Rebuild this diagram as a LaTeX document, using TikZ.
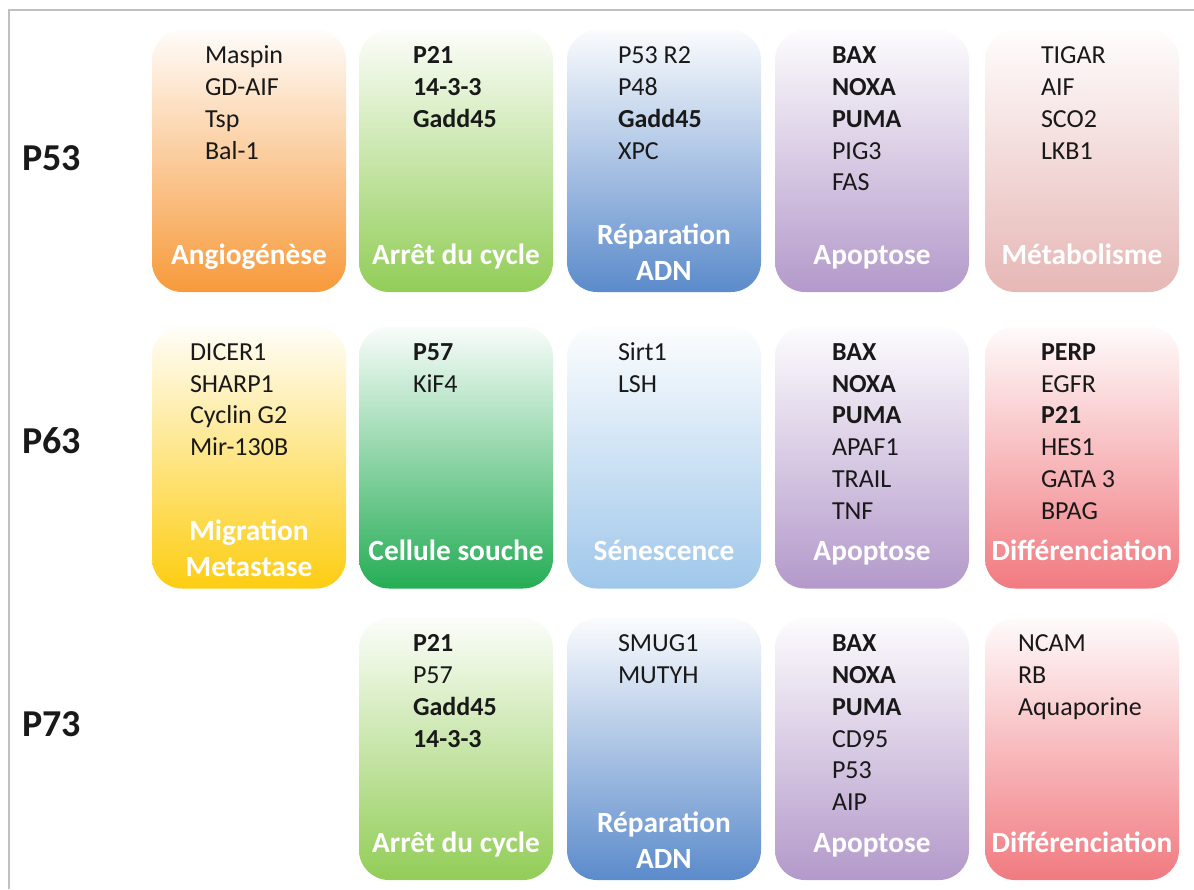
\documentclass[tikz,border=0pt]{standalone}
\usepackage{fontspec}
\setmainfont{Carlito}
\usepackage{xcolor}
\usepackage{tikz}
\usetikzlibrary{positioning}

\definecolor{cAngio}{HTML}{F79A3B}
\definecolor{cArret}{HTML}{92CD57}
\definecolor{cRepa}{HTML}{5B8BCB}
\definecolor{cApo}{HTML}{B399CA}
\definecolor{cMeta}{HTML}{E6B7B5}
\definecolor{cMigr}{HTML}{FDCD12}
\definecolor{cSouche}{HTML}{25AD55}
\definecolor{cSenes}{HTML}{9FC7EA}
\definecolor{cDiff}{HTML}{F17A80}
\definecolor{cFrame}{HTML}{C0C0C0}

\tikzset{
    box/.style={rectangle, rounded corners=22.5pt, minimum width=145.5pt, minimum height=196.5pt,
        inner sep=0pt, top color=#1!3, bottom color=#1},
    gene/.style={anchor=base west, inner sep=0pt, text=black!90, font=\fontsize{19.5}{23}\selectfont},
    role/.style={inner sep=0pt, text=white, align=center, font=\bfseries\fontsize{22}{27}\selectfont,
        execute at begin node=\vphantom{Ég}},
    prot/.style={anchor=west, inner sep=0pt, text=black!90, font=\bfseries\fontsize{28.5}{34}\selectfont},
}

\begin{document}
\begin{tikzpicture}[x=0.75pt, y=-0.75pt]
    \useasboundingbox (0,0) rectangle (1194,889);

        % Frame
        \draw[cFrame, line width=1.5pt] (9,889) -- (9,10) -- (1194,10);

        % Proteins
        \node[prot] (p53) at (22,158) {P53};
        \node[prot] (p63) at (22,441) {P63};
        \node[prot] (p73) at (22,724) {P73};

        % Boxes with their genes
        \foreach \n/\x/\y/\c/\dx/\lab/\genes in {
            angio/249/161/cAngio/53/{Angiogénèse}/{Maspin, GD-AIF, Tsp, Bal-1},
            arret53/456/161/cArret/54/{Arrêt du cycle}/{\textbf{P21}, \textbf{14-3-3}, \textbf{Gadd45}},
            repa53/664/161/cRepa/51/{Réparation\\ADN\vphantom{g}}/{P53 R2, P48, \textbf{Gadd45}, XPC},
            apo53/872/161/cApo/57/{Apoptose}/{\textbf{BAX}, \textbf{NOXA}, \textbf{PUMA}, PIG3, FAS},
            meta/1082/161/cMeta/56/{Métabolisme}/{TIGAR, AIF, SCO2, LKB1},
            migr/249/457.5/cMigr/38/{Migration\\Metastase\vphantom{g}}/{DICER1, SHARP1, Cyclin G2, Mir-130B},
            souche/456/457.5/cSouche/54/{Cellule souche}/{\textbf{P57}, KiF4},
            senes/664/457.5/cSenes/51/{Sénescence}/{Sirt1, LSH},
            apo63/872/457.5/cApo/57/{Apoptose}/{\textbf{BAX}, \textbf{NOXA}, \textbf{PUMA}, APAF1, TRAIL, TNF},
            diff63/1082/457.5/cDiff/56/{Différenciation}/{\textbf{PERP}, EGFR, \textbf{P21}, HES1, GATA 3, BPAG},
            arret73/456/749/cArret/54/{Arrêt du cycle}/{\textbf{P21}, P57, \textbf{Gadd45}, \textbf{14-3-3}},
            repa73/664/749/cRepa/51/{Réparation\\ADN\vphantom{g}}/{SMUG1, MUTYH},
            apo73/872/749/cApo/57/{Apoptose}/{\textbf{BAX}, \textbf{NOXA}, \textbf{PUMA}, CD95, P53, AIP},
            diff73/1082/749/cDiff/33/{Différenciation}/{NCAM, RB, Aquaporine}} {
            \node[box=\c] (\n) at (\x,\y) {};
            \foreach \g [count=\i] in \genes {
                \node[gene] (\n-\i) at ([shift={(\dx,{34+31.8*(\i-1)})}]\n.north west) {\g};
            }
            \node[role] (\n-lab) at ([shift={(0,-38)}]\n.south) {\lab};
        }
    \end{tikzpicture}
\end{document}
